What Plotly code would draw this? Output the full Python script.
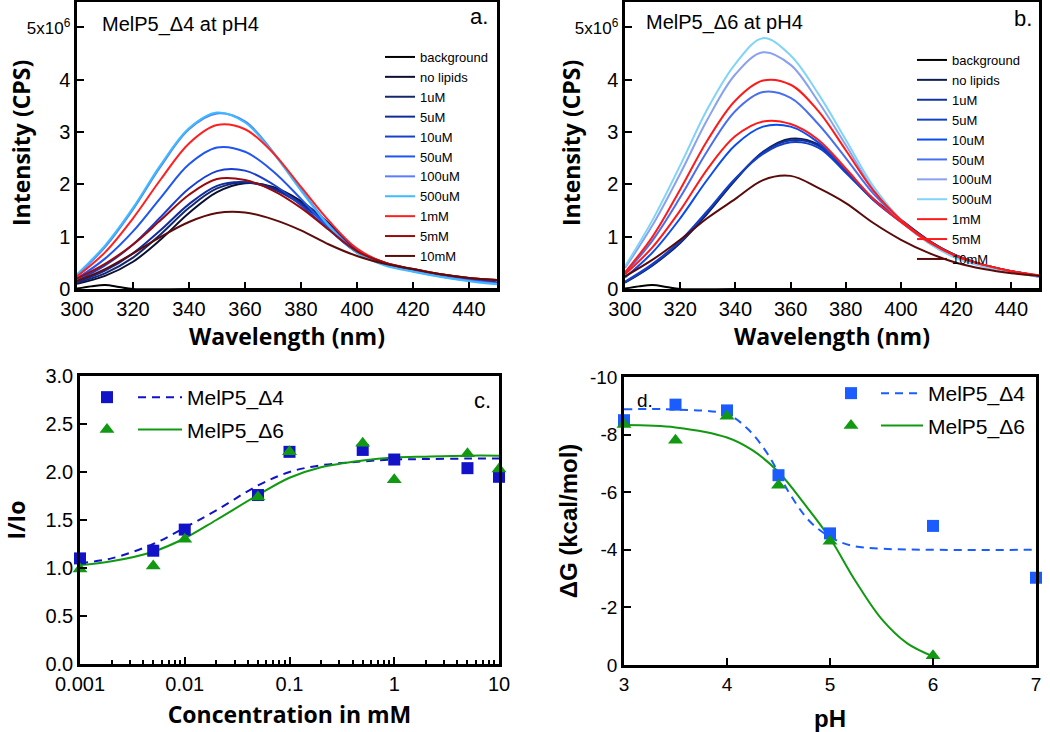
import plotly.graph_objects as go

W, H = 1050, 732

# ---------------- data ----------------
wavelength = [300, 310, 320, 330, 340, 350, 360, 370, 380, 390, 400, 410, 420, 430, 440, 450]
bg_wavelength = [300, 305, 310, 315, 320, 340, 360, 380, 400, 420, 450]
series_names = ["background", "no lipids", "1uM", "5uM", "10uM", "50uM", "100uM",
                "500uM", "1mM", "5mM", "10mM"]

# panel a: MelP5_Δ4 at pH4, intensity in 10^6 CPS
a_background = [0.01, 0.05, 0.075, 0.04, 0.0, 0.0, 0.0, 0.0, 0.0, 0.0, 0.0]
a_no_lipids = [0.10, 0.25, 0.52, 0.95, 1.45, 1.85, 2.02, 1.95, 1.68, 1.25, 0.75, 0.50, 0.37, 0.27, 0.19, 0.12]
a_1uM = [0.12, 0.30, 0.60, 1.05, 1.55, 1.92, 2.04, 1.93, 1.65, 1.22, 0.74, 0.49, 0.37, 0.27, 0.19, 0.12]
a_5uM = [0.13, 0.35, 0.68, 1.13, 1.62, 1.97, 2.04, 1.91, 1.62, 1.20, 0.73, 0.49, 0.37, 0.27, 0.19, 0.12]
a_10uM = [0.16, 0.45, 0.85, 1.38, 1.92, 2.25, 2.26, 2.00, 1.60, 1.13, 0.70, 0.48, 0.36, 0.26, 0.18, 0.11]
a_50uM = [0.20, 0.58, 1.10, 1.75, 2.38, 2.70, 2.62, 2.25, 1.72, 1.16, 0.70, 0.47, 0.35, 0.25, 0.17, 0.10]
a_100uM = [0.26, 0.80, 1.52, 2.35, 3.05, 3.35, 3.20, 2.62, 1.90, 1.22, 0.70, 0.46, 0.34, 0.24, 0.16, 0.10]
a_500uM = [0.28, 0.83, 1.55, 2.38, 3.07, 3.37, 3.18, 2.60, 1.88, 1.20, 0.69, 0.45, 0.33, 0.23, 0.15, 0.09]
a_1mM = [0.24, 0.70, 1.35, 2.10, 2.78, 3.13, 3.05, 2.60, 1.95, 1.30, 0.77, 0.50, 0.38, 0.28, 0.21, 0.17]
a_5mM = [0.20, 0.48, 0.85, 1.32, 1.80, 2.10, 2.08, 1.88, 1.55, 1.13, 0.72, 0.50, 0.38, 0.28, 0.21, 0.17]
a_10mM = [0.15, 0.38, 0.68, 1.00, 1.28, 1.45, 1.46, 1.33, 1.12, 0.85, 0.63, 0.48, 0.38, 0.28, 0.21, 0.17]

# panel b: MelP5_Δ6 at pH4, intensity in 10^6 CPS
b_background = [0.01, 0.05, 0.075, 0.04, 0.0, 0.0, 0.0, 0.0, 0.0, 0.0, 0.0]
b_no_lipids = [0.12, 0.45, 0.88, 1.45, 2.08, 2.62, 2.87, 2.76, 2.25, 1.72, 1.32, 0.93, 0.64, 0.46, 0.34, 0.25]
b_1uM = [0.13, 0.46, 0.90, 1.48, 2.10, 2.61, 2.84, 2.74, 2.24, 1.71, 1.31, 0.92, 0.64, 0.46, 0.34, 0.25]
b_5uM = [0.14, 0.48, 0.92, 1.50, 2.11, 2.58, 2.80, 2.70, 2.22, 1.70, 1.30, 0.91, 0.63, 0.45, 0.33, 0.24]
b_10uM = [0.22, 0.70, 1.35, 2.10, 2.75, 3.10, 3.10, 2.80, 2.28, 1.70, 1.28, 0.90, 0.62, 0.45, 0.33, 0.24]
b_50uM = [0.30, 0.93, 1.75, 2.65, 3.40, 3.76, 3.65, 3.15, 2.50, 1.82, 1.30, 0.90, 0.62, 0.45, 0.33, 0.24]
b_100uM = [0.40, 1.22, 2.20, 3.25, 4.10, 4.52, 4.28, 3.58, 2.75, 1.90, 1.30, 0.88, 0.60, 0.43, 0.32, 0.23]
b_500uM = [0.43, 1.32, 2.36, 3.45, 4.30, 4.79, 4.46, 3.73, 2.85, 1.96, 1.32, 0.88, 0.59, 0.43, 0.32, 0.24]
b_1mM = [0.32, 1.00, 1.90, 2.85, 3.60, 3.98, 3.90, 3.40, 2.65, 1.88, 1.32, 0.92, 0.63, 0.46, 0.34, 0.26]
b_5mM = [0.28, 0.80, 1.50, 2.30, 2.92, 3.20, 3.15, 2.85, 2.30, 1.72, 1.28, 0.90, 0.63, 0.46, 0.34, 0.26]
b_10mM = [0.24, 0.56, 0.94, 1.36, 1.72, 2.08, 2.16, 1.93, 1.64, 1.26, 0.94, 0.69, 0.50, 0.38, 0.30, 0.25]

a_colors = ["#000000", "#0b1030", "#14286e", "#0f2c9c", "#1a3fcf", "#1f55f2",
            "#5a7cff", "#3cbcff", "#ff1f1f", "#9a0a0a", "#5e0b0b"]
b_colors = ["#000000", "#0d1e55", "#12339e", "#1440c8", "#0a4cf0", "#4a6ef0",
            "#8aa0f0", "#80d4f8", "#ff1a1a", "#ff1a1a", "#5a0a0a"]

# panel c: I/Io vs concentration (mM)
conc = [0.001, 0.005, 0.01, 0.05, 0.1, 0.5, 1, 5, 10]
c_d4 = [1.10, 1.18, 1.40, 1.76, 2.21, 2.23, 2.13, 2.04, 1.95]
c_d6 = [0.99, 1.02, 1.30, 1.74, 2.21, 2.30, 1.92, 2.19, 2.03]
fit_conc = [0.001, 0.002, 0.005, 0.01, 0.02, 0.05, 0.1, 0.2, 0.5, 1, 2, 5, 10]
c_fit_d4 = [1.05, 1.10, 1.25, 1.42, 1.60, 1.86, 2.00, 2.07, 2.11, 2.13, 2.135, 2.14, 2.14]
c_fit_d6 = [1.03, 1.07, 1.17, 1.31, 1.50, 1.76, 1.94, 2.05, 2.12, 2.15, 2.16, 2.17, 2.17]

# panel d: ΔG vs pH
ph_d4 = [3, 3.5, 4, 4.5, 5, 6, 7]
d_d4 = [-8.50, -9.04, -8.84, -6.59, -4.57, -4.83, -3.03]
ph_d6 = [3, 3.5, 4, 4.5, 5, 6]
d_d6 = [-8.35, -7.80, -8.64, -6.24, -4.30, -0.32]
fit_ph_d4 = [3, 3.5, 4, 4.2, 4.4, 4.6, 4.8, 5.0, 5.2, 5.5, 6, 7]
d_fit_d4 = [-8.88, -8.87, -8.70, -8.20, -7.30, -6.00, -5.00, -4.45, -4.15, -4.04, -4.00, -4.00]
fit_ph_d6 = [3, 3.5, 4, 4.25, 4.5, 4.75, 5.0, 5.25, 5.5, 5.75, 6]
d_fit_d6 = [-8.33, -8.25, -7.90, -7.45, -6.70, -5.60, -4.40, -2.90, -1.60, -0.75, -0.30]

spec_ticks = [0, 1, 2, 3, 4, 5]
spec_ticktext = ["0", "1", "2", "3", "4", '<span style="font-size:17px">5x10<sup>6</sup></span>']
ratio_ticks = [0, 0.5, 1.0, 1.5, 2.0, 2.5, 3.0]
conc_ticks = [0.001, 0.01, 0.1, 1, 10]
conc_ticktext = ["0.001", "0.01", "0.1", "1", "10"]
conc_minor = [k * 10.0 ** e for e in (-3, -2, -1, 0) for k in range(2, 10)]
dg_ticks = [0, -2, -4, -6, -8, -10]
dg_ticktext = ["0", "-2", "-4", "-6", "-8", "-10"]
ph_ticks = [3, 4, 5, 6, 7]

a_series = [a_background, a_no_lipids, a_1uM, a_5uM, a_10uM, a_50uM, a_100uM,
            a_500uM, a_1mM, a_5mM, a_10mM]
b_series = [b_background, b_no_lipids, b_1uM, b_5uM, b_10uM, b_50uM, b_100uM,
            b_500uM, b_1mM, b_5mM, b_10mM]

BLUE_C = "#1212c8"
BLUE_D = "#1a5cff"
GREEN = "#119911"
SANS = "Liberation Sans, Arial, sans-serif"
TICKFONT = dict(family=SANS, size=20, color="black")
TITLEFONT = dict(family="Open Sans, sans-serif", size=23, color="black", weight="bold")

fig = go.Figure()

for panel, series, colors, xa, ya, lg in [
        ("a", a_series, a_colors, "x", "y", "legend"),
        ("b", b_series, b_colors, "x2", "y2", "legend2")]:
    for name, vals, col in zip(series_names, series, colors):
        xs = bg_wavelength if name == "background" else wavelength
        fig.add_trace(go.Scatter(
            x=xs, y=vals, mode="lines", name=name,
            line=dict(color=col, width=2, shape="spline", smoothing=1.0),
            xaxis=xa, yaxis=ya, legend=lg, hoverinfo="skip"))

# panel c fits
fig.add_trace(go.Scatter(x=fit_conc, y=c_fit_d4, mode="lines", name="MelP5_Δ4",
                         line=dict(color=BLUE_C, width=2, dash="8px,6px", shape="spline"),
                         xaxis="x3", yaxis="y3", legend="legend4", legendgroup="c1"))
fig.add_trace(go.Scatter(x=fit_conc, y=c_fit_d6, mode="lines", name="MelP5_Δ6",
                         line=dict(color=GREEN, width=2, shape="spline"),
                         xaxis="x3", yaxis="y3", legend="legend4", legendgroup="c2"))
fig.add_trace(go.Scatter(x=conc, y=c_d4, mode="markers", name=" ",
                         marker=dict(symbol="square", size=12, color=BLUE_C),
                         xaxis="x3", yaxis="y3", legend="legend3", legendgroup="c3",
                         cliponaxis=False))
fig.add_trace(go.Scatter(x=conc, y=c_d6, mode="markers", name=" ",
                         marker=dict(symbol="triangle-up", size=13, color=GREEN),
                         xaxis="x3", yaxis="y3", legend="legend3", legendgroup="c4",
                         cliponaxis=False))

# panel d fits
fig.add_trace(go.Scatter(x=fit_ph_d4, y=d_fit_d4, mode="lines", name="MelP5_Δ4",
                         line=dict(color=BLUE_D, width=2, dash="8px,6px", shape="spline"),
                         xaxis="x4", yaxis="y4", legend="legend6", legendgroup="d1"))
fig.add_trace(go.Scatter(x=fit_ph_d6, y=d_fit_d6, mode="lines", name="MelP5_Δ6",
                         line=dict(color=GREEN, width=2, shape="spline"),
                         xaxis="x4", yaxis="y4", legend="legend6", legendgroup="d2"))
fig.add_trace(go.Scatter(x=ph_d4, y=d_d4, mode="markers", name=" ",
                         marker=dict(symbol="square", size=12, color=BLUE_D),
                         xaxis="x4", yaxis="y4", legend="legend5", legendgroup="d3",
                         cliponaxis=False))
fig.add_trace(go.Scatter(x=ph_d6, y=d_d6, mode="markers", name=" ",
                         marker=dict(symbol="triangle-up", size=13, color=GREEN),
                         xaxis="x4", yaxis="y4", legend="legend5", legendgroup="d4",
                         cliponaxis=False))


def axis(**kw):
    d = dict(showline=True, linewidth=2.5, linecolor="black", mirror=True,
             ticks="inside", ticklen=7, tickwidth=2, tickcolor="black",
             showgrid=False, zeroline=False, tickfont=TICKFONT, automargin=False,
             layer="above traces")
    d.update(kw)
    return d


def dom_x(p0, p1):
    return [p0 / W, p1 / W]


def dom_y(top, bottom):
    return [1 - bottom / H, 1 - top / H]


def legend(xpx, ytop, size, **kw):
    d = dict(x=xpx / W, y=1 - ytop / H, xanchor="left", yanchor="top",
             bgcolor="rgba(0,0,0,0)", borderwidth=0,
             font=dict(family=SANS, size=size, color="black"))
    d.update(kw)
    return d


fig.update_layout(
    template="none",
    width=W, height=H,
    margin=dict(l=0, r=0, t=0, b=0, autoexpand=False),
    paper_bgcolor="white", plot_bgcolor="white",
    showlegend=True,
    xaxis=axis(domain=dom_x(77, 497), anchor="y", range=[300, 450], tick0=300, dtick=20,
               title=dict(text="Wavelength (nm)", font=TITLEFONT, standoff=6)),
    yaxis=axis(domain=dom_y(2, 289), anchor="x", range=[0, 5.48],
               tickvals=spec_ticks, ticktext=spec_ticktext),
    xaxis2=axis(domain=dom_x(625, 1039), anchor="y2", range=[300, 450], tick0=300, dtick=20,
                title=dict(text="Wavelength (nm)", font=TITLEFONT, standoff=6)),
    yaxis2=axis(domain=dom_y(2, 289), anchor="x2", range=[0, 5.48],
                tickvals=spec_ticks, ticktext=spec_ticktext),
    xaxis3=axis(domain=dom_x(80, 499), anchor="y3", type="log", range=[-3, 1],
                tickvals=conc_ticks, ticktext=conc_ticktext,
                minor=dict(ticks="inside", ticklen=4, tickwidth=1.5, tickcolor="black",
                           tickvals=conc_minor),
                title=dict(text="Concentration in mM", font=TITLEFONT, standoff=14)),
    yaxis3=axis(domain=dom_y(376, 664), anchor="x3", range=[0, 3], tickvals=ratio_ticks,
                tickformat=".1f",
                title=dict(text="I/Io", font=TITLEFONT, standoff=14)),
    xaxis4=axis(domain=dom_x(624, 1036), anchor="y4", range=[3, 7], tickvals=ph_ticks,
                tickfont=dict(family=SANS, size=19, color="black"),
                title=dict(text="pH", font=dict(family=SANS, size=24, color="black", weight="bold"),
                           standoff=17)),
    yaxis4=axis(domain=dom_y(377, 665), anchor="x4", range=[0, -10],
                tickvals=dg_ticks, ticktext=dg_ticktext,
                tickfont=dict(family=SANS, size=19, color="black"),
                title=dict(text="ΔG (kcal/mol)",
                           font=dict(family=SANS, size=24, color="black", weight="bold"),
                           standoff=6)),
    legend=legend(380, 42, 13),
    legend2=legend(912, 45, 13),
    legend3=legend(87, 377, 21, tracegroupgap=2),
    legend4=legend(133, 377, 21, tracegroupgap=2, itemwidth=44),
    legend5=legend(831, 373, 21, tracegroupgap=2),
    legend6=legend(876, 373, 21, tracegroupgap=2, itemwidth=42),
)

ann_font = dict(family=SANS, color="black")
annotations = [
    dict(text="MelP5_Δ4 at pH4", x=100 / W, y=1 - 24 / H, xanchor="left", yanchor="middle",
         font=dict(size=20, **ann_font)),
    dict(text="MelP5_Δ6 at pH4", x=644 / W, y=1 - 22 / H, xanchor="left", yanchor="middle",
         font=dict(size=20, **ann_font)),
    dict(text="a.", x=479 / W, y=1 - 17 / H, xanchor="center", yanchor="middle",
         font=dict(size=22, **ann_font)),
    dict(text="b.", x=1023 / W, y=1 - 18 / H, xanchor="center", yanchor="middle",
         font=dict(size=22, **ann_font)),
    dict(text="c.", x=482 / W, y=1 - 400 / H, xanchor="center", yanchor="middle",
         font=dict(size=22, **ann_font)),
    dict(text="d.", x=645 / W, y=1 - 400 / H, xanchor="center", yanchor="middle",
         font=dict(size=19, **ann_font)),
    dict(text="Intensity (CPS)", x=21 / W, y=1 - 143 / H, xanchor="center", yanchor="middle",
         textangle=-90, font=TITLEFONT),
    dict(text="Intensity (CPS)", x=571 / W, y=1 - 143 / H, xanchor="center", yanchor="middle",
         textangle=-90, font=TITLEFONT),
]
for a in annotations:
    a.update(xref="paper", yref="paper", showarrow=False)
fig.update_layout(annotations=annotations)

fig.write_html("out.html",
               config={"displayModeBar": False},
               post_script="document.body.style.margin='0';document.body.style.overflow='hidden';")
